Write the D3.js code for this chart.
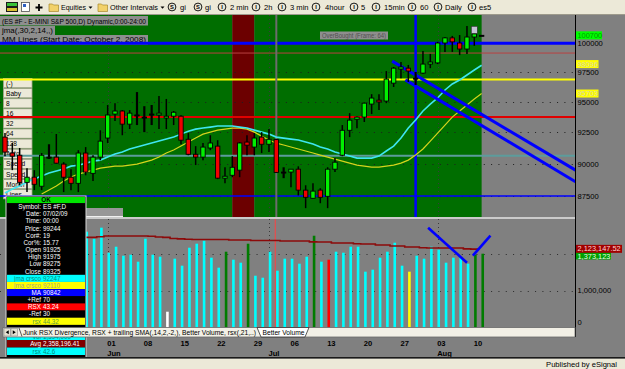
<!DOCTYPE html>
<html>
<head>
<meta charset="utf-8">
<style>
  body { margin: 0; background: #808080; }
  svg { display: block; }
  text { font-family: "Liberation Sans", Arial, sans-serif; }
</style>
</head>
<body>
<svg id="chart" width="625" height="369"></svg>
<script src="https://cdn.jsdelivr.net/npm/d3@7"></script>
<script>
// ES #F daily bars, index 14 = Jun 1 ... 64 = Aug 10, 65 = today's first tick
let opens  = [92125,90850,90675,88550,88950,88250,90525,90525,89975,88950,
              88475,90850,89250,90525,92050,94000,94250,93175,93925,93750,
              94000,93925,93675,93825,93825,91950,90750,90525,91250,91400,
              88875,89100,89500,91725,91325,92125,91550,91925,89350,89350,
              89575,87950,87325,87950,87475,89575,90675,92675,93575,93750,
              94825,95150,95075,96575,97775,97850,97000,97425,98200,98300,
              100025,100475,100025,99500,100550,100700]
let highs  = [92450,91650,91250,89650,89500,90850,91550,92375,90125,89575,
              91075,91325,90675,92675,94750,94900,94325,94325,95825,94650,
              94750,95500,95250,94250,93900,92450,91400,91650,92275,91875,
              89725,90600,91725,92275,92450,92525,92775,91975,89725,89575,
              89800,88325,88475,88100,89725,90450,93100,94075,93800,94950,
              95650,95650,97600,97950,98375,98125,97525,99325,99075,100125,
              100550,100650,100725,101525,101450,100700]
let lows   = [90600,89500,88325,87800,87950,87950,90375,90000,87800,87950,
              87800,89100,88650,90275,91650,93425,92275,92775,93100,92525,
              93100,92775,92775,93100,91550,90675,89900,90275,91075,88800,
              88475,88950,88950,90675,90675,90850,90925,89275,88875,88175,
              87550,86575,87300,86950,86575,89350,90600,92125,92850,93350,
              94000,94325,94900,96250,97000,96675,96425,97350,97850,98200,
              99250,99250,98975,99075,99775,100700]
let closes = [90925,90600,88550,88950,88400,90675,90525,90050,88950,88475,
              90850,89350,90525,91800,93925,94250,93175,94075,93925,93750,
              94000,94075,93825,94150,91875,90750,90525,91325,91650,88875,
              89025,89725,91650,91475,92050,91550,91950,89325,89350,89575,
              87950,87400,87875,87400,89575,90125,92675,93500,93750,94900,
              95325,95000,96925,97850,97950,97600,97000,98200,98375,100025,
              100475,100125,99500,100550,100825,100700]

// jma crossover lines
let jmaFast = [87730,88040,88270,88580,88810,89040,89275,89430,89585,89815,
               89890,90050,90210,90290,90530,90770,90930,91170,91330,91490,
               91650,91810,91970,92125,92365,92605,92770,92855,92935,93020,
               93020,93020,92935,92855,92690,92525,92365,92125,92045,91965,
               91885,91730,91565,91330,91170,90930,90770,90610,90450,90450,
               90450,90610,91010,91405,92045,92855,93515,94250,94825,95330,
               96000,96505,96845,97265,97690,98096]
let jmaSlow = [null,null,null,null,null,87655,87960,88270,88655,88965,
               89195,89350,89505,89660,89740,89815,89815,89890,89970,90130,
               90290,90530,90850,91090,91405,91725,92045,92365,92525,92690,
               92770,92855,92855,92770,92525,92205,91885,91645,91490,91330,
               91170,91010,90850,90690,90530,90370,90210,90050,89890,89815,
               89740,89740,89815,89890,90050,90290,90690,91170,91805,92445,
               93100,93750,94250,94745,95245,95703]

// Better Volume
let volume = [null,null,null,null,null,null,null,null,null,null,
              null,2595000,2405000,2703000,2027000,2189000,1946000,1973000,1784000,2405000,
              1973000,1919000,432000,1865000,1676000,2162000,2270000,2351000,1892000,1622000,
              2054000,1838000,1757000,2270000,1405000,1351000,2054000,1541000,1865000,1865000,
              1730000,1919000,2486000,1784000,1838000,2054000,2027000,2189000,2189000,1514000,
              1568000,1892000,2054000,2297000,1676000,1514000,1946000,1865000,2189000,2108000,
              1757000,1892000,1892000,1730000,1973000,2000000]
let volType = ["n","n","n","n","n","n","n","n","n","n",
               "n","n","n","n","n","n","n","n","n","n",
               "n","n","climaxDn","n","n","n","n","n","n","n",
               "churn","n","n","churn","n","n","n","n","n","n",
               "n","n","churn","n","climaxUp","n","n","n","n","n",
               "n","n","n","n","n","low","n","n","n","n",
               "n","n","n","n","churn","churn"]
let volAvg = [null,null,null,null,null,null,null,null,null,null,
              null,2440000,2440000,2460000,2480000,2480000,2480000,2480000,2480000,2480000,
              2470000,2450000,2440000,2410000,2400000,2390000,2385000,2385000,2385000,2385000,
              2385000,2370000,2370000,2370000,2358000,2358000,2358000,2358196.41,2343000,2343000,
              2343000,2343000,2320000,2316000,2316000,2290000,2290000,2290000,2270000,2262000,
              2262000,2235000,2235000,2210000,2208000,2180000,2181000,2160000,2154000,2154000,
              2154000,2154000,2154000,2130000,2125000,2123147.52]
let lastVolume = 1373123

// MM lines and other levels
let mmLevels = [100000, 96875, 93750, 90625, 87500]
let mmKind = ["top", "pivot", "major", "pivot2", "bottom"]
let obLevel = 99150
let bgZones = [[-1, 31, "up"], [31, 34, "down"], [34, 65, "up"]]
let trendPrice = [[[52.8, 98450], [77.8, 89500]], [[54.6, 96850], [77.8, 88600]]]
let trendVol = [[[57.7, 2700000], [63.0, 1757000]], [[63.8, 1946000], [66.2, 2486000]]]
let cursorIdx = 37
let markerIdx = 56

// axis ticks
let priceTicks = [100000, 97500, 95000, 92500, 90000, 87500]
let volTicks = [1000000, 2000000]
let dayTickIdx = [14, 19, 24, 29, 34, 39, 44, 49, 54, 59, 64]
let dayTickLabels = ["01", "08", "15", "22", "29", "06", "13", "20", "27", "03", "10"]
let monthTickIdx = [14, 36, 59]
let monthLabels = ["Jun", "Jul", "Aug"]

// data window
let dwLabels = ["Symbol:", "Date:", "Time:", "Price:", "Cor#:", "Cor%:", "Open", "High", "Low", "Close",
                "jma crsco", "jma crsco", "MA", "+Ref", "RSX", "-Ref", "rsx"]
let dwValues = ["ES #F,D", "07/02/09", "00:00", "99244", "19", "15.77", "91925", "91975", "89275", "89325",
                "92247", "92110", "90842", "70", "43.24", "30", "44.32"]
let dw2Labels = ["Vol", "Avg", "rsx"]
let dw2Values = ["1,394,000", "2,358,196.41", "42.6"]

let svg = d3.select("#chart")

let x = d3.scaleLinear().domain([0, 64]).range([5, 474.3])
let y = d3.scaleLog().domain([87500, 100000]).range([196, 43.3])
let yv = d3.scaleLinear().domain([0, 1000000]).range([327.7, 290.7])

let defs = svg.append("defs")
defs.append("clipPath").attr("id", "clipP").append("rect")
    .attr("x", 0).attr("y", 15).attr("width", 575).attr("height", 202)
defs.append("clipPath").attr("id", "clipV").append("rect")
    .attr("x", 0).attr("y", 219).attr("width", 575).attr("height", 109)

svg.append("rect").attr("width", 625).attr("height", 369).attr("fill", "#808080")
svg.append("line").attr("x1", 0).attr("x2", 575).attr("y1", 218).attr("y2", 218)
    .attr("stroke", "#e4e4e4").attr("stroke-width", 1.5)

let gBg = svg.append("g").attr("clip-path", "url(#clipP)")
let gMenu = svg.append("g")
let gFg = svg.append("g").attr("clip-path", "url(#clipP)")
let gVol = svg.append("g").attr("clip-path", "url(#clipV)")
let gUi = svg.append("g")

// ---- price pane background
gBg.selectAll("rect.zone").data(bgZones).join("rect")
    .attr("x", d => x(d[0])).attr("width", d => x(d[1]) - x(d[0]))
    .attr("y", 15).attr("height", 202)
    .attr("fill", d => d[2] == "up" ? "#006e00" : "#6c0000")

gBg.selectAll("line.pg").data(priceTicks).join("line")
    .attr("x1", 0).attr("x2", 575)
    .attr("y1", d => Math.round(y(d)) + 0.5).attr("y2", d => Math.round(y(d)) + 0.5)
    .attr("stroke", "#1e1e1e").attr("stroke-dasharray", "1,6.33")

gBg.selectAll("line.mg").data(monthTickIdx).join("line")
    .attr("x1", d => Math.round(x(d)) + 0.5).attr("x2", d => Math.round(x(d)) + 0.5)
    .attr("y1", 15).attr("y2", 217)
    .attr("stroke", "#3a3a3a").attr("stroke-dasharray", "1,3")

// ---- frame menu on the left
let menuLabels = ["(-)", "Baby", "8", "16", "32", "64", "128", "Auto", "Speed", "Speed", "Month", "Lines"]
menuLabels.forEach((m, i) => {
    let top = 78 + i * 10.1
    gMenu.append("rect").attr("x", 3.5).attr("y", top + 0.5).attr("width", 28.5).attr("height", 9.2)
        .attr("fill", "#ece9d8").attr("stroke", "#a9a690").attr("stroke-width", 0.8)
    gMenu.append("text").attr("x", 6).attr("y", top + 7.6).attr("font-size", 6.6).attr("fill", "#000").text(m)
})

// ---- study titles
let titles = [
    ["(ES #F - E-MINI S&P 500,D) Dynamic,0:00-24:00", 16, 148, 24.2, 144],
    ["jma(,30,2,14,,)", 26, 55, 33.2, 51],
    ["MM Lines (Start Date: October 2, 2008)", 35, 148, 42.3, 144]
]
titles.forEach(t => {
    gMenu.append("rect").attr("x", 0).attr("y", t[1]).attr("width", t[2]).attr("height", 9.5).attr("fill", "#8e8e8e")
    gMenu.append("text").attr("x", 2).attr("y", t[3]).attr("font-size", 7.6)
        .attr("textLength", t[4]).attr("lengthAdjust", "spacingAndGlyphs").attr("fill", "#000").text(t[0])
})

// ---- price pane foreground
let mmStyle = {
    top: ["#0000ff", 3], pivot: ["#ffff00", 2], major: ["#e00000", 2], pivot2: ["#5c9c9c", 2], bottom: ["#0000ff", 1.5]
}
gFg.append("line").attr("x1", 0).attr("x2", 575).attr("y1", y(obLevel)).attr("y2", y(obLevel))
    .attr("stroke", "#b84040").attr("stroke-width", 1)
gFg.selectAll("line.mm").data(mmLevels).join("line")
    .attr("x1", 0).attr("x2", 575).attr("y1", d => y(d)).attr("y2", d => y(d))
    .attr("stroke", (d, i) => mmStyle[mmKind[i]][0])
    .attr("stroke-width", (d, i) => mmStyle[mmKind[i]][1])

gFg.append("line").attr("x1", x(cursorIdx)).attr("x2", x(cursorIdx)).attr("y1", 15).attr("y2", 217)
    .attr("stroke", "#6c6c6c").attr("stroke-width", 2)
gFg.append("line").attr("x1", x(markerIdx)).attr("x2", x(markerIdx)).attr("y1", 15).attr("y2", 217)
    .attr("stroke", "#0000ff").attr("stroke-width", 2.5)

let line = d3.line().defined(d => d[1] != null).x(d => x(d[0])).y(d => y(d[1]))
gFg.append("path").attr("d", line(jmaSlow.map((v, i) => [i, v])))
    .attr("fill", "none").attr("stroke", "#d4d41c").attr("stroke-width", 1.2)
gFg.append("path").attr("d", line(jmaFast.map((v, i) => [i, v])))
    .attr("fill", "none").attr("stroke", "#3ee6f0").attr("stroke-width", 1.6)

gFg.selectAll("line.tp").data(trendPrice).join("line")
    .attr("x1", d => x(d[0][0])).attr("y1", d => y(d[0][1]))
    .attr("x2", d => x(d[1][0])).attr("y2", d => y(d[1][1]))
    .attr("stroke", "#0000ff").attr("stroke-width", 3)

gFg.append("rect").attr("x", 320).attr("y", 31.5).attr("width", 68).attr("height", 8).attr("fill", "#8e8e8e")
gFg.append("text").attr("x", 322).attr("y", 38).attr("font-size", 6.5).attr("textLength", 64)
    .attr("lengthAdjust", "spacingAndGlyphs").attr("fill", "#505050").text("OverBought (Frame: 64)")

let candles = opens.map((o, i) => ({ i: i, o: o, h: highs[i], l: lows[i], c: closes[i] }))
gFg.selectAll("line.wick").data(candles).join("line")
    .attr("x1", d => x(d.i)).attr("x2", d => x(d.i))
    .attr("y1", d => y(d.h)).attr("y2", d => y(d.l))
    .attr("stroke", "#000").attr("stroke-width", d => d.o == d.c ? 2.2 : 1.5)
gFg.selectAll("rect.body").data(candles).join("rect")
    .attr("x", d => x(d.i) - 2.2).attr("width", 4.4)
    .attr("y", d => y(Math.max(d.o, d.c)))
    .attr("height", d => Math.max(1, Math.abs(y(d.o) - y(d.c))))
    .attr("fill", d => d.c > d.o ? "#00f000" : d.c < d.o ? "#f00000" : "#000")
    .attr("stroke", "#000").attr("stroke-width", 0.9)

gFg.append("rect").attr("x", x(64) - 3).attr("y", y(highs[64]) - 0.5).attr("width", 6).attr("height", 7)
    .attr("fill", "#c4c4d4").attr("stroke", "#303030").attr("stroke-width", 0.6)

// ---- volume pane
gVol.selectAll("line.vg").data(volTicks).join("line")
    .attr("x1", 0).attr("x2", 575)
    .attr("y1", d => Math.round(yv(d)) + 0.5).attr("y2", d => Math.round(yv(d)) + 0.5)
    .attr("stroke", "#2a2a2a").attr("stroke-dasharray", "1,6.33")
gVol.selectAll("line.vmg").data(monthTickIdx).join("line")
    .attr("x1", d => Math.round(x(d)) + 0.5).attr("x2", d => Math.round(x(d)) + 0.5)
    .attr("y1", 219).attr("y2", 328)
    .attr("stroke", "#3a3a3a").attr("stroke-dasharray", "1,3")

let volColor = { n: "#00ffff", climaxDn: "#ffffff", churn: "#007c00", climaxUp: "#ff0000", low: "#ffff00" }
let bars = volume.map((v, i) => ({ i: i, v: v, t: volType[i] })).filter(d => d.v != null)
gVol.selectAll("rect.vb").data(bars).join("rect")
    .attr("x", d => x(d.i) - 0.2).attr("width", 2.6)
    .attr("y", d => yv(d.v)).attr("height", d => yv(0) - yv(d.v))
    .attr("fill", d => volColor[d.t])

gVol.append("line").attr("x1", x(cursorIdx) - 1).attr("x2", x(cursorIdx) - 1).attr("y1", 219).attr("y2", 328)
    .attr("stroke", "#e05050").attr("stroke-width", 1.3)

let avgLine = d3.line().defined(d => d[1] != null).curve(d3.curveStepAfter)
    .x(d => x(d[0]) - 3.6).y(d => yv(d[1]))
gVol.append("path").attr("d", avgLine(volAvg.map((v, i) => [i, v])))
    .attr("fill", "none").attr("stroke", "#8c0a0a").attr("stroke-width", 1.6)

gVol.selectAll("line.tv").data(trendVol).join("line")
    .attr("x1", d => x(d[0][0])).attr("y1", d => yv(d[0][1]))
    .attr("x2", d => x(d[1][0])).attr("y2", d => yv(d[1][1]))
    .attr("stroke", "#0000ff").attr("stroke-width", 2.6)

// ---- right axis
gUi.append("line").attr("x1", 575.5).attr("x2", 575.5).attr("y1", 15).attr("y2", 337)
    .attr("stroke", "#000").attr("stroke-width", 1)
gUi.selectAll("text.pt").data(priceTicks).join("text")
    .attr("x", 577.5).attr("y", d => y(d)).attr("dy", "0.36em")
    .attr("font-size", 7.6).attr("fill", "#000").text(d => d)

function tag(yPos, w, bg, fg, label) {
    gUi.append("rect").attr("x", 576).attr("y", yPos - 4).attr("width", w).attr("height", 8).attr("fill", bg)
    gUi.append("text").attr("x", 577.5).attr("y", yPos).attr("dy", "0.34em")
        .attr("font-size", 7.4).attr("fill", fg).text(label)
}
tag(y(closes[65]), 26, "#00ff00", "#009a00", closes[65])
tag(y(jmaFast[65]) - 1.2, 22.5, "#ffff00", "#d6d6a8", jmaFast[65])
tag(y(jmaSlow[65]), 22.5, "#ffff00", "#d6d6a8", jmaSlow[65])

gUi.append("text").attr("x", 577.5).attr("y", yv(volTicks[0])).attr("dy", "0.36em")
    .attr("font-size", 7.6).attr("fill", "#000").text(d3.format(",")(volTicks[0]))
gUi.append("text").attr("x", 577.5).attr("y", 322.7).attr("dy", "0.36em")
    .attr("font-size", 7.6).attr("fill", "#000").text("0")
gUi.append("rect").attr("x", 576).attr("y", 251).attr("width", 35).attr("height", 8.5).attr("fill", "#00a000")
gUi.append("text").attr("x", 577.5).attr("y", 258.8).attr("font-size", 7.4).attr("fill", "#e8ffe8")
    .text(d3.format(",")(lastVolume))
tag(yv(volAvg[65]) - 0.3, 46, "#a00000", "#ffd4d4", d3.format(",.2f")(volAvg[65]))

// ---- small grey strip under price pane
gUi.append("rect").attr("x", 85).attr("y", 208).attr("width", 38).attr("height", 9).attr("fill", "#979797")
gUi.append("line").attr("x1", 85).attr("x2", 123).attr("y1", 216.5).attr("y2", 216.5).attr("stroke", "#f0f0f0")

// ---- data window
gUi.append("rect").attr("x", 6).attr("y", 196).attr("width", 80).attr("height", 161.5)
    .attr("fill", "#000").attr("stroke", "#d8d8d8").attr("stroke-width", 1)
gUi.append("rect").attr("x", 7).attr("y", 197).attr("width", 78).attr("height", 6.2).attr("fill", "#00e400")
gUi.append("text").attr("x", 46).attr("y", 202.4).attr("text-anchor", "middle")
    .attr("font-size", 6.4).attr("font-weight", "bold").attr("fill", "#000").text("OK")
let rowBg = ["#000", "#000", "#000", "#000", "#000", "#000", "#000", "#000", "#000", "#000",
             "#00ffff", "#ffff00", "#0000ff", "#000", "#ff0000", "#000", "#ffff00"]
let rowFg = ["#fff", "#fff", "#fff", "#fff", "#fff", "#fff", "#fff", "#fff", "#fff", "#fff",
             "#008c7c", "#a8a878", "#fff", "#fff", "#fff", "#fff", "#58a040"]
function dwRow(top, h, label, value, bg, fg) {
    gUi.append("rect").attr("x", 7).attr("y", top).attr("width", 78).attr("height", h).attr("fill", bg)
    gUi.append("text").attr("x", 41).attr("y", top + h - 1.3).attr("text-anchor", "end")
        .attr("font-size", 6.3).attr("fill", fg).text(label)
    gUi.append("text").attr("x", 43).attr("y", top + h - 1.3)
        .attr("font-size", 6.3).attr("fill", fg).text(value)
}
dwLabels.forEach((l, i) => dwRow(203.3 + i * 7.15, 7.15, l, dwValues[i], rowBg[i], rowFg[i]))
let row2Bg = ["#00ffff", "#800000", "#00ffff"]
let row2Fg = ["#008c7c", "#fff", "#008c7c"]
dw2Labels.forEach((l, i) => dwRow(332.5 + i * 7.5, 7.5, l, dw2Values[i], row2Bg[i], row2Fg[i]))

// ---- study tabs
gUi.append("rect").attr("x", 3).attr("y", 327.5).attr("width", 572).attr("height", 9.5)
    .attr("fill", "#f2f0e6").attr("stroke", "#6a6a6a").attr("stroke-width", 0.8)
;[4, 11].forEach((bx, k) => {
    gUi.append("rect").attr("x", bx).attr("y", 328.5).attr("width", 6.5).attr("height", 7.5)
        .attr("fill", "#e4e1d2").attr("stroke", "#8a8a8a").attr("stroke-width", 0.6)
    let cx = bx + 3.25
    gUi.append("path").attr("d", k == 0
        ? `M${cx + 1.5},330.2 L${cx - 1.5},332.2 L${cx + 1.5},334.2 Z`
        : `M${cx - 1.5},330.2 L${cx + 1.5},332.2 L${cx - 1.5},334.2 Z`).attr("fill", "#000")
})
gUi.append("path").attr("d", "M19,328 L22,336.5").attr("stroke", "#303030").attr("stroke-width", 0.8)
gUi.append("text").attr("x", 23).attr("y", 335).attr("font-size", 7).attr("textLength", 233)
    .attr("lengthAdjust", "spacingAndGlyphs").attr("fill", "#000")
    .text("Junk RSX Divergence, RSX + trailing SMA(,14,2,-2,), Better Volume, rsx(,21,..)")
gUi.append("path").attr("d", "M257,327.5 L261,337 L305,337 L309,327.5 Z")
    .attr("fill", "#ffffff").attr("stroke", "#303030").attr("stroke-width", 0.8)
gUi.append("text").attr("x", 262.5).attr("y", 335).attr("font-size", 7).attr("textLength", 42)
    .attr("lengthAdjust", "spacingAndGlyphs").attr("fill", "#000").text("Better Volume")

// ---- date axis
gUi.selectAll("text.day").data(dayTickIdx).join("text")
    .attr("x", d => x(d) - 0.5).attr("y", 346).attr("font-size", 7.6).attr("font-weight", "bold")
    .attr("fill", "#000").text((d, i) => dayTickLabels[i])
gUi.selectAll("text.mon").data(monthTickIdx).join("text")
    .attr("x", d => x(d) - 0.5).attr("y", 356).attr("font-size", 7.6).attr("font-weight", "bold")
    .attr("fill", "#000").text((d, i) => monthLabels[i])

// ---- status bar
gUi.append("rect").attr("x", 0).attr("y", 358.5).attr("width", 625).attr("height", 10.5).attr("fill", "#ece9d8")
gUi.append("line").attr("x1", 0).attr("x2", 625).attr("y1", 357.8).attr("y2", 357.8)
    .attr("stroke", "#1a1a1a").attr("stroke-width", 1.4)
gUi.append("text").attr("x", 617).attr("y", 366.6).attr("text-anchor", "end")
    .attr("font-size", 7.6).attr("fill", "#000").text("Published by eSignal")

// ---- toolbar
let tb = svg.append("g")
tb.append("rect").attr("width", 625).attr("height", 14).attr("fill", "#ece9d8")
tb.append("line").attr("x1", 0).attr("x2", 625).attr("y1", 14.5).attr("y2", 14.5).attr("stroke", "#9d9a8c")
tb.append("rect").attr("x", 6).attr("y", 2).attr("width", 12).attr("height", 10).attr("fill", "#1c1c1c")
tb.append("rect").attr("x", 7).attr("y", 3).attr("width", 10).attr("height", 3).attr("fill", "#38c038")
tb.append("rect").attr("x", 7).attr("y", 8).attr("width", 10).attr("height", 3).attr("fill", "#d8c030")
tb.append("rect").attr("x", 21.5).attr("y", 2.5).attr("width", 8).attr("height", 9)
    .attr("fill", "#fff").attr("stroke", "#505050").attr("stroke-width", 0.8)
tb.append("rect").attr("x", 23).attr("y", 4).attr("width", 3).attr("height", 3).attr("fill", "#3060c0")
tb.append("path").attr("d", "M39,4 V11 M35.5,7.5 H42.5").attr("stroke", "#000").attr("stroke-width", 1.8)
;[49, 98].forEach(fx => {
    tb.append("path").attr("d", `M${fx},4 h3.5 l1,1 h5 v6.5 h-9.5 Z`)
        .attr("fill", "#f2d16a").attr("stroke", "#a88a2c").attr("stroke-width", 0.7)
})
;[90.5, 162.5].forEach(ax => {
    tb.append("path").attr("d", `M${ax - 2},6.5 L${ax + 2},6.5 L${ax},8.8 Z`).attr("fill", "#000")
})
tb.append("text").attr("x", 61).attr("y", 10.2).attr("font-size", 7.6).attr("textLength", 25)
    .attr("lengthAdjust", "spacingAndGlyphs").attr("fill", "#000").text("Equities")
tb.append("text").attr("x", 110).attr("y", 10.2).attr("font-size", 7.6).attr("textLength", 48)
    .attr("lengthAdjust", "spacingAndGlyphs").attr("fill", "#000").text("Other Intervals")
let links = [[172, "S", "gi", 180], [198, "S", "gi", 205], [222, "I", "2 min", 230], [256, "I", "2h", 264],
             [282, "I", "3 min", 290], [316, "I", "4hour", 325], [354, "I", "5", 361], [376, "I", "15min", 384],
             [412, "I", "60", 420], [438, "I", "Daily", 445], [472, "I", "es5", 479]]
links.forEach(l => {
    tb.append("circle").attr("cx", l[0]).attr("cy", 7).attr("r", 3.9)
        .attr("fill", "none").attr("stroke", "#000").attr("stroke-width", 0.9)
    tb.append("text").attr("x", l[0]).attr("y", 9.3).attr("text-anchor", "middle")
        .attr("font-size", 5.8).attr("font-weight", "bold").attr("fill", "#000").text(l[1])
    tb.append("text").attr("x", l[3]).attr("y", 10.2).attr("font-size", 7.6).attr("fill", "#000").text(l[2])
})
</script>
</body>
</html>
